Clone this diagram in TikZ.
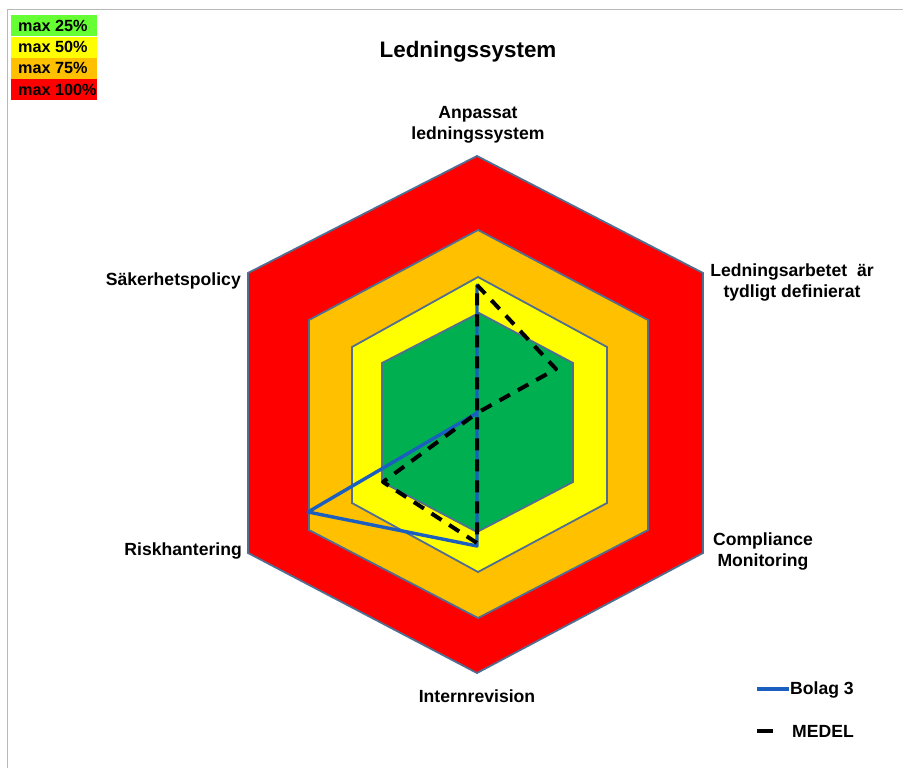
\documentclass[tikz,border=0pt]{standalone}
\usepackage{fontspec}
\setmainfont{Liberation Sans}
\definecolor{cRed}{HTML}{FF0000}
\definecolor{cOrange}{HTML}{FFC000}
\definecolor{cYellow}{HTML}{FFFF00}
\definecolor{cGreen}{HTML}{00B050}
\definecolor{cLGreen}{HTML}{66FF33}
\definecolor{cEdge}{RGB}{80,110,145}
\definecolor{cBlue}{HTML}{1A5FC0}
\begin{document}
\begin{tikzpicture}[x=1pt,y=-1pt,
  hexband/.style={draw=cEdge,line width=1.8pt,line join=miter},
  lbl/.style={font=\bfseries\fontsize{17.6}{21}\selectfont,align=center,inner sep=0pt},
  keytxt/.style={font=\bfseries\fontsize{16.2}{18}\selectfont,anchor=west,inner sep=0pt},
  keybox/.style={inner sep=0pt,minimum width=86pt,minimum height=21pt,anchor=north west},
  bolag/.style={draw=cBlue,line width=3.4pt,line join=round},
  medel/.style={draw=black,line width=4pt,dash pattern=on 12pt off 9pt,line join=round}]
\useasboundingbox (0,0) rectangle (903,768);
\fill[white] (0,0) rectangle (903,768);
% frame
\draw[gray!55,line width=1pt] (7,780) -- (7,10) -- (910,10);

% hexagon bands
\filldraw[hexband,fill=cRed] (477,156) -- (703,273) -- (703,553) -- (477,673) -- (248,553) -- (248,273) -- cycle;
\filldraw[hexband,fill=cOrange] (478,230) -- (648,320) -- (648,530) -- (478,618) -- (309,530) -- (309,320) -- cycle;
\filldraw[hexband,fill=cYellow] (478,277) -- (607,347) -- (607,503) -- (478,572) -- (352,503) -- (352,347) -- cycle;
\filldraw[hexband,fill=cGreen] (479,313) -- (573,363) -- (573,482) -- (477,532) -- (382,482) -- (382,363) -- cycle;

% data points
\coordinate (ctr) at (477,413);
\coordinate (bT) at (477,285);
\coordinate (bB) at (477,546);
\coordinate (bL) at (308,512);
\coordinate (mT) at (477,285);
\coordinate (mUR) at (556,369);
\coordinate (mB) at (477,543);
\coordinate (mL) at (383,482);

\draw[bolag] (bT) -- (ctr) -- (bB) -- (bL) -- (ctr) -- cycle;
\draw[medel] (mT) -- (mUR) -- (ctr) -- (mB) -- (mL) -- (ctr) -- cycle;

% title
\node[font=\bfseries\fontsize{22.4}{26}\selectfont,inner sep=0pt] (title) at (468,52) {Ledningssystem};

% axis labels
\node[lbl] (lA) at (478,125) {Anpassat\\ledningssystem};
\node[lbl] (lL) at (792,282) {Ledningsarbetet~ är\\tydligt definierat};
\node[lbl] (lC) at (763,551) {Compliance\\Monitoring};
\node[lbl] (lI) at (477,696) {Internrevision};
\node[lbl,anchor=east] (lR) at (242,551) {Riskhantering};
\node[lbl,anchor=east] (lS) at (241,281) {Säkerhetspolicy};

% color key
\node[keybox,fill=cLGreen] (k1) at (11,15) {};
\node[keybox,fill=cYellow] (k2) at (11,36.5) {};
\node[keybox,fill=cOrange] (k3) at (11,58) {};
\node[keybox,fill=cRed] (k4) at (11,79) {};
\node[keytxt] (t1) at (18,26) {max 25\%};
\node[keytxt] (t2) at (18,47) {max 50\%};
\node[keytxt] (t3) at (18,68) {max 75\%};
\node[keytxt] (t4) at (18,89.5) {max 100\%};

% series legend
\coordinate (lb1) at (757,689);
\coordinate (lb2) at (789,689);
\draw[bolag] (lb1) -- (lb2);
\node[lbl,anchor=west] (lgB) at (790,690) {Bolag 3};
\coordinate (lm1) at (757,731);
\coordinate (lm2) at (773,731);
\draw[draw=black,line width=4pt] (lm1) -- (lm2);
\node[lbl,anchor=west] (lgM) at (792,731) {MEDEL};
\end{tikzpicture}
\end{document}
